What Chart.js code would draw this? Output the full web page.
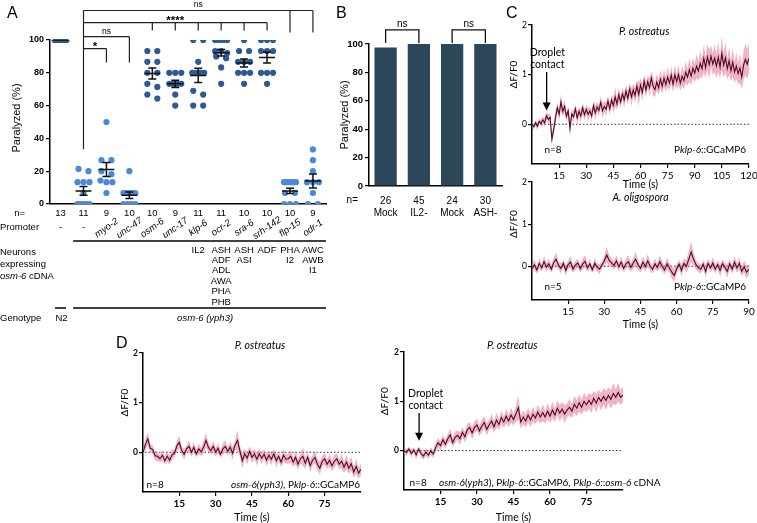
<!DOCTYPE html>
<html>
<head>
<meta charset="utf-8">
<title>osm-6 rescue and klp-6 calcium imaging</title>
<script src="https://cdn.jsdelivr.net/npm/chart.js@4.4.1/dist/chart.umd.min.js"></script>
<style>
  html, body { margin: 0; padding: 0; background: #fff; }
  #page { position: relative; width: 757px; height: 523px; overflow: hidden; font-family: "Liberation Sans", Arial, sans-serif; }
  #page canvas { position: absolute; }
  .letter { position: absolute; font-size: 16px; line-height: 16px; color: #000; }
</style>
</head>
<body>
<div id="page">
  <canvas id="chartA" width="335" height="330" style="left:0;top:0"></canvas>
  <canvas id="chartB" width="180" height="235" style="left:330px;top:0"></canvas>
  <canvas id="chartC1" width="257" height="200" style="left:500px;top:0"></canvas>
  <canvas id="chartC2" width="257" height="165" style="left:500px;top:170px"></canvas>
  <canvas id="chartD1" width="275" height="193" style="left:100px;top:330px"></canvas>
  <canvas id="chartD2" width="310" height="193" style="left:365px;top:330px"></canvas>
  <div class="letter" style="left:7px;top:5px">A</div>
  <div class="letter" style="left:336px;top:5px">B</div>
  <div class="letter" style="left:506px;top:5px">C</div>
  <div class="letter" style="left:116px;top:335px">D</div>
</div>
<script>
// ---------- panel A : paralysis per strain ----------
const promoters = ['-', '-', 'myo-2', 'unc-47', 'osm-6', 'unc-17', 'klp-6', 'ocr-2', 'sra-6', 'srh-142', 'flp-15', 'odr-1'];
const nCounts = ['13', '11', '9', '10', '10', '9', '11', '11', '10', '10', '10', '9'];
const neurons = [[], [], [], [], [], [], ['IL2'], ['ASH', 'ADF', 'ADL', 'AWA', 'PHA', 'PHB'], ['ASH', 'ASI'], ['ADF'], ['PHA', 'I2'], ['AWC', 'AWB', 'I1']];

const paralyzedN2 = [100, 100, 100, 100, 100, 100, 100, 100, 100, 100, 100, 100, 100];
const paralyzedMutant = [0, 0, 0, 0, 0, 6.7, 13.3, 13.3, 13.3, 20, 21.4];
const paralyzedMyo2 = [50, 26.7, 26.7, 20, 18.2, 14.3, 13.3, 13.3, 6.7];
const paralyzedUnc47 = [20, 6.7, 6.7, 6.7, 6.7, 6.7, 0, 0, 0, 0];
const paralyzedOsm6 = [93.3, 93.3, 86.7, 86.7, 80, 80, 73.3, 71.4, 66.7, 64.3];
const paralyzedUnc17 = [80, 80, 80, 73.3, 73.3, 73.3, 73.3, 66.7, 60];
const paralyzedKlp6 = [100, 100, 86.7, 80, 80, 80, 80, 69, 66.7, 60, 60];
const paralyzedOcr2 = [100, 100, 100, 100, 93.3, 93.3, 92, 90, 88.9, 83.3, 73.3];
const paralyzedSra6 = [100, 93.3, 93.3, 86.7, 86.7, 86.7, 80, 80, 80, 73.3];
const paralyzedSrh142 = [100, 100, 100, 93.3, 93.3, 93.3, 80, 80, 80, 73.3];
const paralyzedFlp15 = [13.3, 13.3, 13.3, 13.3, 13.3, 6.7, 6.7, 0, 0, 0];
const paralyzedOdr1 = [33.3, 26.7, 20, 13.3, 13.3, 13.3, 6.7, 0, 0];

const meansA = [100, 8, 21, 5.3, 79.6, 73.3, 78.4, 92.2, 86, 89.3, 8, 14];
const semA = [0, 2.6, 4.3, 2, 3.4, 2.2, 4.3, 2, 2.4, 3.3, 1.6, 4.3];

// ---------- panel B ----------
const bN = ['26', '45', '24', '30'];
const bGroups = ['Mock', 'IL2-', 'Mock', 'ASH-'];
const bParalyzed = [97.5, 100, 100, 100];

// ---------- panel C / D : ΔF/F0 traces, one value per second ----------
const meanC1 = [
  0, -0.05, 0.03, -0.04, 0.06, 0.01, 0.09, 0.03, 0.17, 0.1,
  0.14, -0.3, -0.1, 0.14, 0.33, 0.2, 0.45, 0.26, 0.36, 0.16,
  0.27, -0.08, 0.21, 0.15, 0.31, 0.13, 0.26, 0.17, 0.33, 0.19,
  0.3, 0.2, 0.27, 0.17, 0.37, 0.23, 0.35, 0.28, 0.44, 0.27,
  0.36, 0.3, 0.47, 0.31, 0.49, 0.38, 0.55, 0.41, 0.6, 0.45,
  0.61, 0.49, 0.67, 0.52, 0.71, 0.55, 0.69, 0.58, 0.77, 0.6,
  0.79, 0.64, 0.87, 0.69, 0.86, 0.74, 0.93, 0.76, 0.7, 0.85,
  0.74, 0.91, 0.77, 0.93, 0.8, 0.95, 0.83, 0.99, 0.81, 1.0,
  0.86, 1.0, 0.83, 0.97, 0.88, 1.05, 0.95, 1.1, 0.97, 1.13,
  1.03, 1.17, 1.07, 1.23, 1.12, 1.33, 1.14, 1.36, 1.2, 1.37,
  1.21, 1.33, 1.17, 1.35, 1.15, 1.43, 1.19, 1.34, 1.12, 1.28,
  1.08, 1.25, 1.05, 1.17, 1.02, 1.13, 0.95, 1.19, 1.31, 1.21,
  1.33
];
const semC1 = [
  0.04, 0.06, 0.05, 0.08, 0.05, 0.07, 0.06, 0.09, 0.07, 0.1,
  0.08, 0.12, 0.09, 0.14, 0.1, 0.12, 0.16, 0.1, 0.13, 0.09,
  0.1, 0.18, 0.09, 0.12, 0.08, 0.13, 0.09, 0.14, 0.1, 0.12,
  0.09, 0.13, 0.08, 0.12, 0.1, 0.15, 0.09, 0.12, 0.11, 0.16,
  0.1, 0.14, 0.11, 0.13, 0.1, 0.15, 0.2, 0.11, 0.14, 0.12,
  0.12, 0.16, 0.11, 0.14, 0.12, 0.18, 0.13, 0.15, 0.12, 0.24,
  0.13, 0.17, 0.14, 0.16, 0.13, 0.18, 0.14, 0.2, 0.14, 0.17,
  0.14, 0.19, 0.15, 0.18, 0.14, 0.2, 0.15, 0.18, 0.16, 0.2,
  0.16, 0.21, 0.15, 0.2, 0.17, 0.22, 0.17, 0.24, 0.18, 0.21,
  0.18, 0.24, 0.19, 0.26, 0.2, 0.28, 0.21, 0.25, 0.3, 0.22,
  0.22, 0.28, 0.24, 0.3, 0.23, 0.34, 0.24, 0.3, 0.22, 0.27,
  0.22, 0.28, 0.21, 0.26, 0.22, 0.3, 0.24, 0.28, 0.32, 0.3,
  0.3
];
const meanC2 = [
  -0.06, 0.04, -0.09, 0.07, -0.04, 0.11, -0.02, 0.06, -0.07, 0.09,
  0.17, 0.02, -0.05, 0.07, -0.1, 0.04, 0.1, -0.07, 0.03, 0.08,
  -0.06, 0.05, 0.12, -0.04, 0.06, -0.08, 0.07, -0.02, -0.07, 0.03,
  0.13, 0.27, 0.14, 0.08, 0.02, 0.13, -0.01, 0.1, -0.05, 0.06,
  0.11, -0.03, 0.08, 0.17, 0.03, -0.05, 0.1, -0.01, 0.13, 0.0,
  -0.07, 0.06, -0.03, 0.11, 0.0, -0.09, 0.06, -0.04, -0.14, -0.22,
  -0.06, 0.05, -0.1, 0.07, 0.0, 0.16, 0.34, 0.17, 0.04, -0.03,
  -0.07, 0.05, -0.12, 0.07, -0.04, 0.08, -0.07, 0.04, -0.1, 0.06,
  -0.02, -0.12, 0.06, -0.07, 0.1, -0.04, 0.07, -0.12, -0.01, -0.14,
  -0.07
];
const semC2 = [
  0.08, 0.12, 0.09, 0.13, 0.08, 0.14, 0.09, 0.12, 0.08, 0.13,
  0.15, 0.09, 0.12, 0.08, 0.13, 0.09, 0.14, 0.08, 0.11, 0.1,
  0.09, 0.13, 0.15, 0.09, 0.12, 0.08, 0.13, 0.09, 0.12, 0.09,
  0.12, 0.18, 0.13, 0.11, 0.09, 0.14, 0.1, 0.13, 0.09, 0.12,
  0.15, 0.1, 0.13, 0.17, 0.11, 0.09, 0.14, 0.1, 0.15, 0.11,
  0.1, 0.13, 0.09, 0.15, 0.11, 0.1, 0.14, 0.11, 0.15, 0.16,
  0.11, 0.1, 0.14, 0.11, 0.15, 0.19, 0.24, 0.15, 0.11, 0.1,
  0.11, 0.1, 0.15, 0.11, 0.1, 0.14, 0.11, 0.1, 0.15, 0.11,
  0.1, 0.16, 0.11, 0.1, 0.14, 0.11, 0.15, 0.11, 0.14, 0.16,
  0.12
];
const meanD1 = [
  0, 0.16, 0.27, 0.08, 0.06, -0.07, -0.08, -0.13, -0.06, -0.17,
  -0.08, -0.16, -0.05, -0.02, 0.13, 0.2, 0.03, -0.04, 0.07, 0.12,
  0.0, 0.1, -0.03, 0.07, 0.01, 0.1, 0.24, 0.1, 0.03, 0.12,
  0.0, 0.08, -0.04, 0.07, 0.12, 0.02, 0.1, -0.02, 0.14, 0.24,
  0.03, -0.17, -0.03, -0.12, 0.02, -0.1, -0.03, -0.14, -0.03, -0.12,
  -0.04, -0.16, -0.06, -0.14, -0.03, -0.17, -0.08, -0.2, -0.06, -0.14,
  -0.13, -0.08, -0.2, -0.1, -0.24, -0.13, -0.08, -0.22, -0.1, -0.27,
  -0.16, -0.1, -0.24, -0.32, -0.18, -0.13, -0.24, -0.16, -0.27, -0.18,
  -0.13, -0.24, -0.18, -0.3, -0.2, -0.32, -0.23, -0.4, -0.28, -0.42,
  -0.34
];
const semD1 = [
  0.07, 0.11, 0.13, 0.09, 0.07, 0.1, 0.09, 0.07, 0.11, 0.08,
  0.11, 0.08, 0.11, 0.07, 0.11, 0.13, 0.08, 0.11, 0.07, 0.11,
  0.08, 0.11, 0.07, 0.11, 0.08, 0.13, 0.15, 0.09, 0.08, 0.11,
  0.08, 0.11, 0.07, 0.11, 0.12, 0.08, 0.11, 0.13, 0.09, 0.21,
  0.11, 0.15, 0.09, 0.13, 0.09, 0.12, 0.09, 0.13, 0.09, 0.12,
  0.09, 0.13, 0.09, 0.12, 0.09, 0.13, 0.1, 0.09, 0.13, 0.09,
  0.1, 0.13, 0.09, 0.14, 0.11, 0.1, 0.19, 0.11, 0.1, 0.13,
  0.1, 0.13, 0.12, 0.13, 0.1, 0.13, 0.09, 0.13, 0.1, 0.13,
  0.11, 0.1, 0.14, 0.11, 0.15, 0.11, 0.14, 0.11, 0.15, 0.11,
  0.12
];
const meanD2 = [
  0, -0.04, 0.03, -0.06, 0.01, -0.09, 0.03, -0.06, -0.11, -0.03,
  -0.09, -0.01, -0.07, 0.06, 0.16, 0.1, 0.22, 0.13, 0.24, 0.32,
  0.16, 0.27, 0.31, 0.24, 0.37, 0.28, 0.42, 0.47, 0.36, 0.47,
  0.52, 0.4, 0.5, 0.57, 0.43, 0.52, 0.6, 0.48, 0.62, 0.53,
  0.67, 0.58, 0.7, 0.6, 0.72, 0.63, 0.74, 0.87, 0.58, 0.68,
  0.6, 0.72, 0.62, 0.74, 0.66, 0.78, 0.68, 0.77, 0.68, 0.8,
  0.7, 0.82, 0.72, 0.86, 0.76, 0.84, 0.74, 0.82, 0.88, 0.8,
  0.94, 0.86, 0.97, 0.88, 1.0, 0.93, 1.02, 0.94, 1.06, 0.96,
  1.08, 1.0, 1.1, 1.02, 1.12, 1.04, 1.16, 1.08, 1.18, 1.08,
  1.13
];
const semD2 = [
  0.04, 0.07, 0.05, 0.08, 0.05, 0.09, 0.05, 0.08, 0.07, 0.08,
  0.07, 0.08, 0.07, 0.1, 0.09, 0.1, 0.09, 0.1, 0.09, 0.13,
  0.09, 0.12, 0.09, 0.13, 0.1, 0.11, 0.13, 0.1, 0.13, 0.12,
  0.13, 0.1, 0.13, 0.12, 0.13, 0.1, 0.14, 0.11, 0.15, 0.11,
  0.14, 0.11, 0.15, 0.12, 0.15, 0.12, 0.16, 0.24, 0.13, 0.14,
  0.13, 0.15, 0.13, 0.16, 0.12, 0.16, 0.13, 0.17, 0.13, 0.16,
  0.13, 0.17, 0.14, 0.15, 0.17, 0.14, 0.18, 0.14, 0.17, 0.14,
  0.17, 0.16, 0.18, 0.15, 0.18, 0.15, 0.16, 0.18, 0.15, 0.19,
  0.15, 0.18, 0.17, 0.19, 0.16, 0.19, 0.21, 0.16, 0.19, 0.15,
  0.16
];

// ---------- styles ----------
const ARIAL = '"Liberation Sans", Arial, sans-serif';
const LATO = 'Lato, "Open Sans", sans-serif';
const DARK_DOT = '#2D5A94';
const LIGHT_DOT = '#4A88DA';
const BAR = '#2C4759';
const BAND = 'rgba(228, 118, 148, 0.55)';
const TRACE = '#4E0B22';

Chart.defaults.color = '#000';
Chart.defaults.animation = false;

function richText(ctx, parts, x, y, align, size, family) {
  const fontFor = it => (it ? 'italic ' : '') + size + 'px ' + family;
  let total = 0;
  parts.forEach(p => { ctx.font = fontFor(p[1]); total += ctx.measureText(p[0]).width; });
  let cx = align === 'right' ? x - total : align === 'center' ? x - total / 2 : x;
  ctx.textAlign = 'left';
  ctx.textBaseline = 'middle';
  parts.forEach(p => {
    ctx.font = fontFor(p[1]);
    ctx.fillText(p[0], cx, y);
    cx += ctx.measureText(p[0]).width;
  });
}

function fixY(width) {
  return s => { s.width = width; s.paddingTop = 0; s.paddingBottom = 0; };
}
function fixX(height) {
  return s => { s.height = height; s.paddingLeft = 0; s.paddingRight = 0; };
}

// spread dots with (nearly) equal values side by side, GraphPad style
function swarm(values, col) {
  const sorted = values.slice().sort((a, b) => b - a);
  const groups = [];
  sorted.forEach(v => {
    const g = groups[groups.length - 1];
    if (g && g[0] - v <= 3) g.push(v); else groups.push([v]);
  });
  const pts = [];
  groups.forEach(g => {
    const step = g.length > 1 ? Math.min(10, 12 / (g.length - 1)) / 23 : 0;
    g.forEach((v, i) => pts.push({ x: col + (i - (g.length - 1) / 2) * step, y: v }));
  });
  return pts;
}

// ---------- chart A ----------
const columnsA = [paralyzedN2, paralyzedMutant, paralyzedMyo2, paralyzedUnc47, paralyzedOsm6, paralyzedUnc17,
  paralyzedKlp6, paralyzedOcr2, paralyzedSra6, paralyzedSrh142, paralyzedFlp15, paralyzedOdr1];
const lightCols = [1, 2, 3, 10, 11];

const panelAExtras = {
  id: 'panelAExtras',
  afterDatasetsDraw(chart) {
    const { ctx, scales: { x, y } } = chart;
    ctx.save();
    ctx.strokeStyle = '#111';
    ctx.lineWidth = 1.5;
    meansA.forEach((m, i) => {
      const cx = x.getPixelForValue(i);
      const ym = y.getPixelForValue(m);
      const yt = y.getPixelForValue(m + semA[i]);
      const yb = y.getPixelForValue(m - semA[i]);
      ctx.beginPath();
      ctx.moveTo(cx - 8, ym); ctx.lineTo(cx + 8, ym);
      ctx.moveTo(cx, yt); ctx.lineTo(cx, yb);
      ctx.moveTo(cx - 4, yt); ctx.lineTo(cx + 4, yt);
      ctx.moveTo(cx - 4, yb); ctx.lineTo(cx + 4, yb);
      ctx.stroke();
    });
    ctx.restore();
  },
  afterDraw(chart) {
    const { ctx, scales: { x, y }, chartArea } = chart;
    ctx.save();
    ctx.fillStyle = '#000';
    ctx.strokeStyle = '#222';

    // comparison brackets, all starting from the mutant column
    const x0 = x.getPixelForValue(1);
    ctx.lineWidth = 1.2;
    ctx.beginPath();
    ctx.moveTo(x0, y.getPixelForValue(118));
    ctx.lineTo(x0, y.getPixelForValue(33.4));
    ctx.stroke();
    const brackets = [
      { to: [10, 11], top: 118, drop: 104.6, label: 'ns', bold: false },
      { to: [4, 5, 6, 7, 8, 9], top: 110.6, drop: 105.8, label: '****', bold: true },
      { to: [3], top: 102, drop: 86.3, label: 'ns', bold: false },
      { to: [2], top: 94.8, drop: 86.3, label: '*', bold: true }
    ];
    brackets.forEach(b => {
      const yt = y.getPixelForValue(b.top);
      const yd = y.getPixelForValue(b.drop);
      const xe = x.getPixelForValue(Math.max(...b.to));
      ctx.beginPath();
      ctx.moveTo(x0, yt); ctx.lineTo(xe, yt);
      b.to.forEach(c => {
        const xc = x.getPixelForValue(c);
        ctx.moveTo(xc, yt); ctx.lineTo(xc, yd);
      });
      ctx.stroke();
      ctx.font = b.bold ? 'bold 11.5px ' + ARIAL : '8.5px ' + ARIAL;
      ctx.textAlign = 'center';
      ctx.textBaseline = 'alphabetic';
      ctx.fillText(b.label, (x0 + xe) / 2, b.bold ? yt + 1 : yt - 3);
    });

    // y title
    ctx.save();
    ctx.translate(17, (chartArea.top + chartArea.bottom) / 2 - 4);
    ctx.rotate(-Math.PI / 2);
    richText(ctx, [['Paralyzed (%)', false]], 0, 0, 'center', 11, ARIAL);
    ctx.restore();

    // table below the axis
    const b = chartArea.bottom;
    const fs = 9.5;
    richText(ctx, [['n=', false]], 25, b + 9, 'right', fs, ARIAL);
    richText(ctx, [['Promoter', false]], 0, b + 23, 'left', fs, ARIAL);
    promoters.forEach((p, i) => {
      const cx = x.getPixelForValue(i);
      if (p === '-') {
        richText(ctx, [[p, false]], cx, b + 23, 'center', fs, ARIAL);
      } else {
        ctx.save();
        ctx.translate(cx, b + 24);
        ctx.rotate(-35 * Math.PI / 180);
        richText(ctx, [[p, true]], 0, 0, 'center', fs, ARIAL);
        ctx.restore();
      }
    });
    ctx.strokeStyle = '#000';
    ctx.lineWidth = 1.5;
    ctx.beginPath();
    ctx.moveTo(x.getPixelForValue(0.55), b + 37);
    ctx.lineTo(x.right, b + 37);
    ctx.stroke();

    richText(ctx, [['Neurons', false]], 0, b + 48, 'left', fs, ARIAL);
    richText(ctx, [['expressing', false]], 0, b + 60, 'left', fs, ARIAL);
    richText(ctx, [['osm-6', true], [' cDNA', false]], 0, b + 72, 'left', fs, ARIAL);
    neurons.forEach((list, i) => {
      const cx = x.getPixelForValue(i);
      list.forEach((nm, k) => richText(ctx, [[nm, false]], cx, b + 46 + k * 10.4, 'center', fs, ARIAL));
    });

    const xN2 = x.getPixelForValue(0);
    ctx.beginPath();
    ctx.moveTo(xN2 - 5.5, b + 104); ctx.lineTo(xN2 + 5.5, b + 104);
    ctx.moveTo(x.getPixelForValue(0.55), b + 104); ctx.lineTo(x.right, b + 104);
    ctx.stroke();
    richText(ctx, [['Genotype', false]], 0, b + 114, 'left', fs, ARIAL);
    richText(ctx, [['N2', false]], xN2 + 1, b + 114, 'center', fs, ARIAL);
    richText(ctx, [['osm-6 (yph3)', true]], x.getPixelForValue(6.3), b + 114, 'center', fs, ARIAL);
    ctx.restore();
  }
};

new Chart(document.getElementById('chartA'), {
  type: 'scatter',
  data: {
    datasets: columnsA.map((vals, i) => ({
      data: swarm(vals, i),
      pointRadius: 3.1,
      pointBorderWidth: 0,
      pointBackgroundColor: lightCols.includes(i) ? LIGHT_DOT : DARK_DOT
    }))
  },
  options: {
    responsive: false,
    devicePixelRatio: 1,
    layout: { padding: { left: 0, top: 40, right: 9, bottom: 0 } },
    plugins: { legend: { display: false }, tooltip: { enabled: false } },
    scales: {
      x: {
        type: 'linear', min: -0.46, max: 11.57,
        afterBuildTicks: s => { s.ticks = nCounts.map((_, i) => ({ value: i })); },
        afterFit: fixX(126),
        grid: { display: false, drawTicks: false },
        border: { color: '#000', width: 1.5 },
        ticks: { callback: v => nCounts[v], font: { family: ARIAL, size: 9.5 }, color: '#000', padding: 4, maxRotation: 0, autoSkip: false }
      },
      y: {
        min: 0, max: 100,
        afterFit: fixY(50),
        ticks: { stepSize: 20, font: { family: ARIAL, size: 9, weight: 'bold' }, color: '#000', padding: 2 },
        grid: { drawOnChartArea: false, drawTicks: true, tickLength: 4, color: '#000', lineWidth: 1.2 },
        border: { color: '#000', width: 1.5 }
      }
    }
  },
  plugins: [panelAExtras]
});

// ---------- chart B ----------
const panelBExtras = {
  id: 'panelBExtras',
  afterDraw(chart) {
    const { ctx, scales: { x, y }, chartArea } = chart;
    ctx.save();
    ctx.fillStyle = '#000';
    ctx.strokeStyle = '#111';
    ctx.lineWidth = 1.3;
    [[0, 1], [2, 3]].forEach(([a, c]) => {
      const xa = x.getPixelForValue(a), xc = x.getPixelForValue(c);
      const yt = y.getPixelForValue(110), yd = y.getPixelForValue(100.7);
      ctx.beginPath();
      ctx.moveTo(xa, yd); ctx.lineTo(xa, yt); ctx.lineTo(xc, yt); ctx.lineTo(xc, yd);
      ctx.stroke();
      ctx.font = '10px ' + ARIAL;
      ctx.textAlign = 'center';
      ctx.textBaseline = 'alphabetic';
      ctx.fillText('ns', (xa + xc) / 2, yt - 3);
    });
    richText(ctx, [['n=', false]], 28, chartArea.bottom + 14, 'right', 10, ARIAL);
    ctx.save();
    ctx.translate(15, (chartArea.top + chartArea.bottom) / 2);
    ctx.rotate(-Math.PI / 2);
    richText(ctx, [['Paralyzed (%)', false]], 0, 0, 'center', 11, ARIAL);
    ctx.restore();
    ctx.restore();
  }
};

new Chart(document.getElementById('chartB'), {
  type: 'bar',
  data: {
    labels: bGroups.map((g, i) => [bN[i], g]),
    datasets: [{ data: bParalyzed, backgroundColor: BAR, barPercentage: 0.67, categoryPercentage: 1 }]
  },
  options: {
    responsive: false,
    devicePixelRatio: 1,
    layout: { padding: { left: 0, top: 44, right: 8, bottom: 0 } },
    plugins: { legend: { display: false }, tooltip: { enabled: false } },
    scales: {
      x: {
        afterFit: fixX(49),
        grid: { display: false, drawTicks: false },
        border: { color: '#000', width: 1.5 },
        ticks: { font: { family: ARIAL, size: 10 }, color: '#000', padding: 9, maxRotation: 0 }
      },
      y: {
        min: 0, max: 100,
        afterFit: fixY(39),
        ticks: { stepSize: 20, font: { family: ARIAL, size: 9.5, weight: 'bold' }, color: '#000', padding: 2 },
        grid: { drawOnChartArea: false, drawTicks: true, tickLength: 4, color: '#000', lineWidth: 1.2 },
        border: { color: '#000', width: 1.5 }
      }
    }
  },
  plugins: [panelBExtras]
});

// ---------- traces (C, D) ----------
// the mean line comes first so Chart.js paints it on top of the SEM band
function traceDatasets(mean, sem) {
  return [
    { data: mean.map((v, i) => ({ x: i, y: v })), borderColor: TRACE, borderWidth: 1.1, pointRadius: 0, fill: false },
    { data: mean.map((v, i) => ({ x: i, y: v - sem[i] })), borderWidth: 0, pointRadius: 0, fill: false },
    { data: mean.map((v, i) => ({ x: i, y: v + sem[i] })), borderWidth: 0, pointRadius: 0, fill: '-1', backgroundColor: BAND }
  ];
}

function traceExtras(o) {
  return {
    id: 'traceExtras',
    beforeDatasetsDraw(chart) {
      const { ctx, scales: { x, y } } = chart;
      const y0 = y.getPixelForValue(0);
      ctx.save();
      ctx.strokeStyle = '#333';
      ctx.lineWidth = 1;
      ctx.setLineDash([1.5, 2]);
      ctx.beginPath();
      ctx.moveTo(x.left + 2, y0); ctx.lineTo(x.right, y0);
      ctx.stroke();
      ctx.restore();
    },
    afterDraw(chart) {
      const { ctx, scales: { x, y } } = chart;
      ctx.save();
      ctx.fillStyle = '#000';
      ctx.strokeStyle = '#000';
      richText(ctx, [[o.title, true]], x.getPixelForValue(o.titleT), o.titleY, 'center', 10.5, LATO);
      ctx.save();
      ctx.translate(o.yTitleX, y.getPixelForValue(1));
      ctx.rotate(-Math.PI / 2);
      richText(ctx, [['ΔF/F0', false]], 0, 0, 'center', 10, LATO);
      ctx.restore();
      richText(ctx, [['Time (s)', false]], x.getPixelForValue(o.xMax / 2), o.timeY, 'center', 10.5, LATO);
      const yl = y.getPixelForValue(o.labelV);
      richText(ctx, [[o.n, false]], x.getPixelForValue(o.nT), yl, 'center', 10, LATO);
      const gx = o.genoAlign === 'right' ? x.right - o.genoPad : x.getPixelForValue(o.genoT);
      richText(ctx, o.geno, gx, yl, o.genoAlign, 10, LATO);
      if (o.droplet) {
        const d = o.droplet;
        const tx = x.getPixelForValue(d.textT);
        richText(ctx, [['Droplet', false]], tx, d.textY, 'center', 10.5, LATO);
        richText(ctx, [['contact', false]], tx, d.textY + 12, 'center', 10.5, LATO);
        const ax = x.getPixelForValue(d.arrowT);
        const tip = y.getPixelForValue(d.tipV);
        ctx.lineWidth = 1.3;
        ctx.beginPath();
        ctx.moveTo(ax, d.textY + 19); ctx.lineTo(ax, tip - 6);
        ctx.stroke();
        ctx.beginPath();
        ctx.moveTo(ax - 4, tip - 8); ctx.lineTo(ax + 4, tip - 8); ctx.lineTo(ax, tip);
        ctx.closePath();
        ctx.fill();
      }
      ctx.restore();
    }
  };
}

function traceChart(id, mean, sem, o) {
  return new Chart(document.getElementById(id), {
    type: 'line',
    data: { datasets: traceDatasets(mean, sem) },
    options: {
      responsive: false,
      devicePixelRatio: 1,
      layout: { padding: { left: 0, top: o.top, right: o.right, bottom: 0 } },
      plugins: { legend: { display: false }, tooltip: { enabled: false } },
      elements: { line: { tension: 0 } },
      scales: {
        x: {
          type: 'linear', min: 0, max: o.xMax,
          afterBuildTicks: s => { s.ticks = o.xTicks.map(v => ({ value: v })); },
          afterFit: fixX(o.xHeight),
          grid: { drawOnChartArea: false, drawTicks: true, tickLength: 4, color: '#000', lineWidth: 1.2 },
          border: { color: '#000', width: 1.5 },
          ticks: { font: { family: LATO, size: 10, weight: o.bold ? 'bold' : 'normal' }, color: '#000', padding: 2, maxRotation: 0, autoSkip: false }
        },
        y: {
          min: -0.8, max: 2,
          afterBuildTicks: s => { s.ticks = [0, 1, 2].map(v => ({ value: v })); },
          afterFit: fixY(o.yWidth),
          grid: { drawOnChartArea: false, drawTicks: true, tickLength: 4, color: '#000', lineWidth: 1.2 },
          border: { color: '#000', width: 1.5 },
          ticks: { font: { family: LATO, size: 8.5, weight: o.bold ? 'bold' : 'normal' }, color: '#000', padding: 1 }
        }
      }
    },
    plugins: [traceExtras(o)]
  });
}

const klpLabel = [['P', false], ['klp-6', true], ['::GCaMP6', false]];

traceChart('chartC1', meanC1, semC1, {
  top: 25, right: 8, xHeight: 36, yWidth: 32, xMax: 120, xTicks: [15, 30, 45, 60, 75, 90, 105, 120], bold: false,
  title: 'P. ostreatus', titleT: 62, titleY: 32, yTitleX: 14, timeY: 185,
  n: 'n=8', nT: 11.6, labelV: -0.52, geno: klpLabel, genoAlign: 'right', genoPad: 3,
  droplet: { textT: 8.5, textY: 53, arrowT: 8.1, tipV: 0.28 }
});

traceChart('chartC2', meanC2, semC2, {
  top: 12, right: 8, xHeight: 35, yWidth: 32, xMax: 90, xTicks: [15, 30, 45, 60, 75, 90], bold: false,
  title: 'A. oligospora', titleT: 45, titleY: 28, yTitleX: 14, timeY: 155,
  n: 'n=5', nT: 8.7, labelV: -0.49, geno: klpLabel, genoAlign: 'right', genoPad: 3
});

traceChart('chartD1', meanD1, semD1, {
  top: 23, right: 14, xHeight: 31, yWidth: 43, xMax: 90, xTicks: [15, 30, 45, 60, 75], bold: true,
  title: 'P. ostreatus', titleT: 48.3, titleY: 16, yTitleX: 25, timeY: 188,
  n: 'n=8', nT: 5, labelV: -0.65,
  geno: [['osm-6(yph3)', true], [', P', false], ['klp-6', true], ['::GCaMP6', false]], genoAlign: 'right', genoPad: 1
});

traceChart('chartD2', meanD2, semD2, {
  top: 22, right: 52, xHeight: 33, yWidth: 39, xMax: 90, xTicks: [15, 30, 45, 60, 75], bold: true,
  title: 'P. ostreatus', titleT: 44.5, titleY: 16, yTitleX: 20, timeY: 188,
  n: 'n=8', nT: 5.8, labelV: -0.65,
  geno: [['osm-6', true], ['(', false], ['yph3', true], ['), P', false], ['klp-6', true], ['::GCaMP6, P', false], ['klp-6', true], ['::', false], ['osm-6', true], [' cDNA', false]],
  genoAlign: 'left', genoT: 14.4,
  droplet: { textT: 8.9, textY: 64, arrowT: 6.2, tipV: 0.2 }
});
</script>
</body>
</html>
